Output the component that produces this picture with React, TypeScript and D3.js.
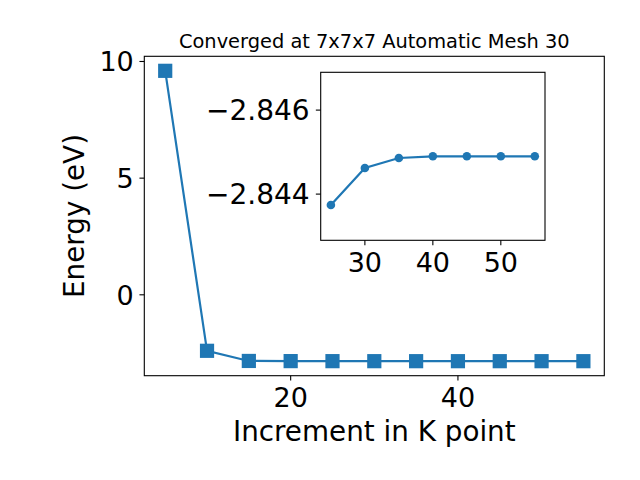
import React from "react";
import * as d3 from "d3";

const kPoints = [5, 10, 15, 20, 25, 30, 35, 40, 45, 50, 55];
const energies = [9.6, -2.4, -2.835, -2.842, -2.84374, -2.84462, -2.84486, -2.8449, -2.8449, -2.8449, -2.8449];
const insetK = [25, 30, 35, 40, 45, 50, 55];
const insetEnergies = [-2.84374, -2.84462, -2.84486, -2.8449, -2.8449, -2.8449, -2.8449];
const mainXTicks = [20, 40];
const mainYTicks = [0, 5, 10];
const insetXTicks = [30, 40, 50];
const insetYTicks = [-2.846, -2.844];
const insetYDomain = [-2.8469, -2.8429];
const title = "Converged at 7x7x7 Automatic Mesh 30";
const xLabel = "Increment in K point";
const yLabel = "Energy (eV)";

const BLUE = "#1f77b4";
const FONT = "DejaVu Sans, sans-serif";
const fmt = (v: number) => (v < 0 ? "\u2212" : "") + Math.abs(v).toString();

function pad(ext: [number, number]): [number, number] {
  const r = ext[1] - ext[0];
  return [ext[0] - 0.05 * r, ext[1] + 0.05 * r];
}

export default function App() {
  const M = { l: 144.3, r: 604.3, t: 56.3, b: 375.7 };
  const I = { l: 320.7, r: 545, t: 72.3, b: 240.3 };

  const x = d3.scaleLinear().domain(pad(d3.extent(kPoints) as [number, number])).range([M.l, M.r]);
  const y = d3.scaleLinear().domain(pad(d3.extent(energies) as [number, number])).range([M.b, M.t]);
  const ix = d3.scaleLinear().domain(pad(d3.extent(insetK) as [number, number])).range([I.l, I.r]);
  const iy = d3.scaleLinear().domain(insetYDomain).range([I.t, I.b]);

  const mainLine = d3.line<number>().x((_, i) => x(kPoints[i])).y((d) => y(d))(energies) || "";
  const insetLine = d3.line<number>().x((_, i) => ix(insetK[i])).y((d) => iy(d))(insetEnergies) || "";

  const tickLen = 4.86;
  const ms = 14.2;
  const fs = 27;

  return (
    <svg width={640} height={480} style={{ position: "fixed", left: 0, top: 0, background: "#fff" }} fontFamily={FONT}>
      <rect x={0} y={0} width={640} height={480} fill="#fff" />
      {/* main data */}
      <path d={mainLine} fill="none" stroke={BLUE} strokeWidth={2.2} />
      {energies.map((e, i) => (
        <rect key={i} x={x(kPoints[i]) - ms / 2} y={y(e) - ms / 2} width={ms} height={ms} fill={BLUE} />
      ))}
      {/* main frame */}
      <rect x={M.l} y={M.t} width={M.r - M.l} height={M.b - M.t} fill="none" stroke="#000" strokeWidth={1.1} />
      {mainXTicks.map((t) => (
        <g key={t}>
          <line x1={x(t)} x2={x(t)} y1={M.b} y2={M.b + tickLen} stroke="#000" strokeWidth={1.1} />
          <text x={x(t)} y={406.7} fontSize={fs} textAnchor="middle">{fmt(t)}</text>
        </g>
      ))}
      {mainYTicks.map((t) => (
        <g key={t}>
          <line x1={M.l - tickLen} x2={M.l} y1={y(t)} y2={y(t)} stroke="#000" strokeWidth={1.1} />
          <text x={M.l - 10.5} y={y(t) + 9.8} fontSize={fs} textAnchor="end">{fmt(t)}</text>
        </g>
      ))}
      <text x={(M.l + M.r) / 2} y={441} fontSize={27.8} textAnchor="middle">{xLabel}</text>
      <text transform={`translate(83.5,${(M.t + M.b) / 2}) rotate(-90)`} fontSize={27.8} textAnchor="middle">{yLabel}</text>
      <text x={(M.l + M.r) / 2} y={47.5} fontSize={19.4} textAnchor="middle">{title}</text>

      {/* inset */}
      <rect x={I.l} y={I.t} width={I.r - I.l} height={I.b - I.t} fill="#fff" stroke="#000" strokeWidth={1.1} />
      <path d={insetLine} fill="none" stroke={BLUE} strokeWidth={2.2} />
      {insetEnergies.map((e, i) => (
        <circle key={i} cx={ix(insetK[i])} cy={iy(e)} r={4.3} fill={BLUE} />
      ))}
      {insetXTicks.map((t) => (
        <g key={t}>
          <line x1={ix(t)} x2={ix(t)} y1={I.b} y2={I.b + tickLen} stroke="#000" strokeWidth={1.1} />
          <text x={ix(t)} y={271.7} fontSize={fs} textAnchor="middle">{fmt(t)}</text>
        </g>
      ))}
      {insetYTicks.map((t) => (
        <g key={t}>
          <line x1={I.l - tickLen} x2={I.l} y1={iy(t)} y2={iy(t)} stroke="#000" strokeWidth={1.1} />
          <text x={I.l - 11} y={iy(t) + 9.8} fontSize={fs + 1} textAnchor="end">{fmt(t)}</text>
        </g>
      ))}
    </svg>
  );
}
